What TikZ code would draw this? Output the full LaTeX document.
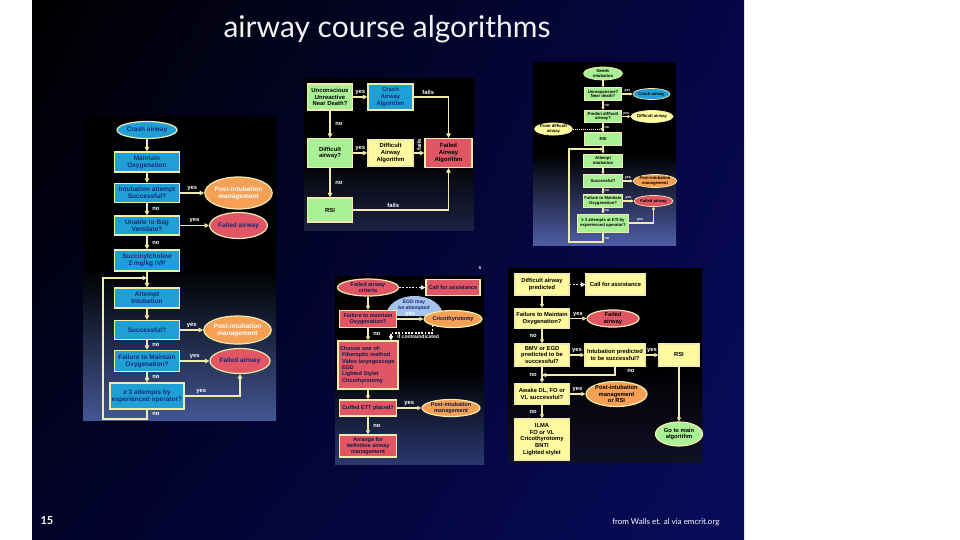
\documentclass[tikz,border=0pt]{standalone}
\usepackage{fontspec}
\usepackage{tikz}
\usetikzlibrary{arrows.meta}
\usetikzlibrary{shapes.geometric}
\usetikzlibrary{shadings}
\setsansfont{Liberation Sans}
\newfontfamily\slidefont{Lato}

\definecolor{slidetr}{RGB}{6,6,72}
\definecolor{slidebl}{RGB}{2,2,40}
\definecolor{slidebr}{RGB}{8,12,92}
\definecolor{cblue}{RGB}{30,160,215}
\definecolor{cgreen}{RGB}{170,240,150}
\definecolor{cyellow}{RGB}{255,250,160}
\definecolor{cred}{RGB}{225,85,100}
\definecolor{corange}{RGB}{245,160,85}
\definecolor{cedge}{RGB}{242,236,172}
\definecolor{cnavy}{RGB}{22,42,120}
\definecolor{cdome}{RGB}{165,195,235}
\definecolor{pnla}{RGB}{66,86,146}
\definecolor{pnlb}{RGB}{28,34,66}
\definecolor{pnlc}{RGB}{78,94,165}
\definecolor{pnld}{RGB}{42,56,112}
\definecolor{pnle}{RGB}{16,16,38}

\tikzset{
  box/.style={rectangle, draw=cedge, line width=1.2pt, inner sep=0pt, align=center, text=black},
  abox/.style={box, minimum width=65pt, minimum height=19pt, text=cnavy, font=\sffamily\bfseries\fontsize{6.5}{6.8}\selectfont},
  aoval/.style={abox, ellipse},
  bbox/.style={box, minimum width=45pt, minimum height=26pt, font=\sffamily\bfseries\fontsize{5.9}{6.8}\selectfont},
  cbox/.style={box, line width=0.7pt, minimum width=37pt, minimum height=12.5pt, font=\sffamily\bfseries\fontsize{4.2}{4.7}\selectfont},
  coval/.style={cbox, ellipse},
  dbox/.style={box, minimum width=57pt, minimum height=17pt, text=cnavy!60!black, font=\sffamily\bfseries\fontsize{5.5}{6.3}\selectfont},
  doval/.style={dbox, ellipse},
  ebox/.style={box, minimum width=54pt, minimum height=21pt, font=\sffamily\bfseries\fontsize{5.8}{6.7}\selectfont},
  eoval/.style={ebox, ellipse},
  link/.style={draw=cedge, line width=1.8pt, ->},
  slink/.style={link, line width=1.5pt, >={Triangle[length=4pt,width=4pt]}},
  clink/.style={link, line width=1.1pt, >={Triangle[length=2.8pt,width=3pt]}},
  dots/.style={draw=white!85!cedge, line width=1.5pt, dash pattern=on 1.8pt off 1.5pt, ->},
  lbl/.style={text=white, inner sep=1.5pt, font=\sffamily\bfseries\fontsize{5.8}{6}\selectfont},
  clbl/.style={lbl, inner sep=1pt, font=\sffamily\bfseries\fontsize{3.6}{4}\selectfont},
  panel/.style={top color=black, bottom color=#1, middle color=black},
  >={Triangle[length=4.5pt,width=4.5pt]}
}

\begin{document}
\begin{tikzpicture}[x=1pt, y=-1pt]
    \useasboundingbox (0,0) rectangle (960,540);
    \fill[white] (0,0) rectangle (960,540);
    \shade[upper left=black, upper right=slidetr, lower left=slidebl, lower right=slidebr] (32,0) rectangle (744,540);
    \node[text=white!90!gray, font=\slidefont\fontsize{30}{33}\selectfont] (T) at (387,29) {airway course algorithms};
    \node[text=white, anchor=west, font=\slidefont\bfseries\fontsize{11}{12}\selectfont] (P) at (37,521) {15};
    \node[text=white, anchor=east, font=\slidefont\fontsize{8}{9}\selectfont] (S) at (723,522) {from Walls et. al via emcrit.org};

    \shade[panel=pnla] (83,117) rectangle (276,420);
    \shade[panel=pnlb] (304,79) rectangle (474,230);
    \shade[panel=pnlc] (533,63) rectangle (676,245);
    \shade[panel=pnld] (335,276) rectangle (484,464);
    \shade[panel=pnle] (508,268) rectangle (702,462);
    \fill[cdome] (386,316) arc[start angle=180, end angle=0, x radius=28.5pt, y radius=20pt];

    \node[aoval, fill=cblue, minimum width=60pt, minimum height=17pt] (A1) at (147,130) {Crash airway};
    \node[abox, fill=cblue, minimum height=20pt] (A2) at (147,162) {Maintain\\Oxygenation};
    \node[abox, fill=cblue] (A3) at (147,193) {Intubation attempt\\Successful?};
    \node[aoval, fill=corange, text=white, minimum width=55pt, minimum height=32pt] (A4) at (238.5,193) {Post-intubation\\management};
    \node[abox, fill=cblue] (A5) at (147,225.5) {Unable to Bag\\Ventilate?};
    \node[aoval, fill=cred, minimum width=55pt, minimum height=26pt] (A6) at (238.5,225.5) {Failed airway};
    \node[abox, fill=cblue, minimum height=21pt] (A7) at (147,260.5) {Succinylcholine\\2 mg/kg IVP};
    \node[abox, fill=cblue, minimum height=20pt] (A8) at (147,298) {Attempt\\Intubation};
    \node[abox, fill=cblue] (A9) at (147,330) {Successful?};
    \node[aoval, fill=corange, text=white, minimum width=57pt, minimum height=28pt] (A10) at (237.5,330) {Post-intubation\\management};
    \node[abox, fill=cblue, minimum height=21pt] (A11) at (147,361) {Failure to Maintain\\Oxygenation?};
    \node[aoval, fill=cred, minimum width=60pt, minimum height=25pt] (A12) at (240,361) {Failed airway};
    \node[abox, fill=cblue, minimum width=74pt, minimum height=26pt] (A13) at (147,396) {≥ 3 attempts by\\experienced operator?};
    \coordinate (Aj) at (147,278);
    \coordinate (Ab) at (103,419);
    \path [link] (A1) edge (A2);
    \path [link] (A2) edge (A3);
    \path [link] (A3) edge node[lbl, above] {yes} (A4);
    \path [link] (A3) edge node[lbl, right=3pt] {no} (A5);
    \path [link] (A5) edge node[lbl, above] {yes} (A6);
    \path [link] (A5) edge node[lbl, right=3pt] {no} (A7);
    \path [link] (A7) edge (A8);
    \path [link] (A8) edge (A9);
    \path [link] (A9) edge node[lbl, above] {yes} (A10);
    \path [link] (A9) edge node[lbl, right=3pt] {no} (A11);
    \path [link] (A11) edge node[lbl, above] {yes} (A12);
    \path [link] (A11) edge node[lbl, right=3pt] {no} (A13);
    \draw [link] (A13) -| node[lbl, above, pos=0.15] {yes} (A12);
    \draw [link] (A13) |- node[lbl, right=3pt, pos=0.25] {no} (Ab) |- (Aj);

    \node[bbox, fill=cgreen] (B1) at (330,97) {Unconscious\\Unreactive\\Near Death?};
    \node[bbox, fill=cblue, text=cnavy] (B2) at (390.5,97) {Crash\\Airway\\Algorithm};
    \node[bbox, fill=cgreen, minimum height=29pt] (B3) at (330,153) {Difficult\\airway?};
    \node[bbox, fill=cyellow] (B4) at (390.5,153) {Difficult\\Airway\\Algorithm};
    \node[bbox, fill=cred, minimum width=47pt, minimum height=29pt] (B5) at (448.5,153) {Failed\\Airway\\Algorithm};
    \node[bbox, fill=cgreen, minimum height=24pt] (B6) at (330,210) {RSI};
    \path [link] (B1) edge node[lbl, above] {yes} (B2);
    \path [link] (B1) edge node[lbl, right=3pt] {no} (B3);
    \path [link] (B3) edge node[lbl, above] {yes} (B4);
    \path [link] (B4) edge node[lbl, rotate=90, anchor=west] {fails} (B5);
    \path [link] (B3) edge node[lbl, right=3pt] {no} (B6);
    \draw [link] (B2) -| node[lbl, above, pos=0.21] {fails} (B5);
    \draw [link] (B6) -| node[lbl, above, pos=0.21] {fails} (B5);

    \node[coval, fill=cgreen, minimum width=39pt, minimum height=13pt] (C1) at (603,73.5) {Needs\\intubation};
    \node[cbox, fill=cgreen] (C2) at (603,94) {Unresponsive?\\Near death?};
    \node[coval, fill=cblue, minimum width=37pt, minimum height=11pt] (C3) at (651.5,94) {Crash airway};
    \node[cbox, fill=cgreen] (C4) at (603,116.5) {Predict difficult\\airway?};
    \node[coval, fill=cyellow, minimum width=38pt, minimum height=12pt] (C5) at (652,116.5) {Difficult airway};
    \node[coval, fill=cyellow, minimum width=37pt, minimum height=12pt] (C6) at (553.5,129) {From difficult\\airway};
    \node[cbox, fill=cgreen] (C7) at (603,139) {RSI};
    \node[cbox, fill=cgreen, minimum width=39pt, minimum height=13pt] (C8) at (603,160.5) {Attempt\\intubation};
    \node[cbox, fill=cgreen, minimum width=39pt] (C9) at (603,181) {Successful?};
    \node[coval, fill=corange, minimum width=42pt, minimum height=13pt] (C10) at (655,181) {Post-intubation\\management};
    \node[cbox, fill=cgreen, minimum width=39pt, minimum height=13pt] (C11) at (603,201) {Failure to Maintain\\Oxygenation?};
    \node[coval, fill=cred, minimum width=39pt, minimum height=11pt] (C12) at (653.5,201) {Failed airway};
    \node[cbox, fill=cgreen, minimum width=51pt, minimum height=18pt] (C13) at (603,223) {≥ 3 attempts at ETI by\\experienced operator?};
    \coordinate (Cd) at (603,129);
    \coordinate (Cj) at (603,149);
    \coordinate (Cb) at (569,242);
    \path [clink] (C1) edge (C2);
    \path [clink] (C2) edge node[clbl, above] {yes} (C3);
    \path [clink] (C2) edge node[clbl, right] {no} (C4);
    \path [clink] (C4) edge node[clbl, above] {yes} (C5);
    \path [clink] (C4) edge node[clbl, right, pos=0.45] {no} (C7);
    \path [dots, line width=0.9pt, dash pattern=on 1pt off 1pt, >={Triangle[length=2.5pt,width=2.5pt]}] (C6) edge (Cd);
    \path [clink] (C7) edge (C8);
    \path [clink] (C8) edge (C9);
    \path [clink] (C9) edge node[clbl, above] {yes} (C10);
    \path [clink] (C9) edge node[clbl, right] {no} (C11);
    \path [clink] (C11) edge node[clbl, above] {yes} (C12);
    \path [clink] (C11) edge node[clbl, right] {no} (C13);
    \draw [clink] (C13) -| node[clbl, above, pos=0.23] {yes} (C12);
    \draw [clink] (C13) |- node[clbl, right, pos=0.3] {no} (Cb) |- (Cj);

    \node[text=white, inner sep=0pt, font=\sffamily\bfseries\fontsize{5}{5}\selectfont] (D0) at (480,268) {s};
    \node[inner sep=0pt, align=center, text=cnavy, font=\sffamily\bfseries\fontsize{5}{5.6}\selectfont] (D9) at (414,305) {EGD may\\be attempted};
    \node[doval, fill=cred, minimum width=61pt, minimum height=17pt] (D1) at (368,287.5) {Failed airway\\criteria};
    \node[dbox, fill=cred, minimum width=54pt, minimum height=16pt] (D2) at (453,287.5) {Call for assistance};
    \node[dbox, fill=cred] (D3) at (368,319) {Failure to maintain\\Oxygenation?};
    \node[doval, fill=corange, minimum width=56pt, minimum height=17pt] (D4) at (453,319) {Cricothyrotomy};
    \node[dbox, fill=cred, minimum width=60pt, minimum height=48pt, align=left, text width=56pt] (D5) at (368,365) {Choose one of:\\\hspace{2pt}Fiberoptic method\\\hspace{2pt}Video laryngoscope\\\hspace{2pt}EGD\\\hspace{2pt}Lighted Stylet\\\hspace{2pt}Cricothyrotomy};
    \node[dbox, fill=cred, minimum height=16pt] (D6) at (368,408) {Cuffed ETT placed?};
    \node[doval, fill=corange, minimum width=58pt, minimum height=17pt] (D7) at (451,408) {Post-intubation\\management};
    \node[dbox, fill=cred, minimum height=22pt] (D8) at (368,446) {Arrange for\\definitive airway\\management};
    \coordinate (Dc) at (391,333);
    \path [dots] (D1) edge (D2);
    \path [slink] (D1) edge (D3);
    \path [slink] (D3) edge node[lbl, above] {yes} (D4);
    \path [slink] (D3) edge node[lbl, right=3pt] {no} (D5);
    \draw [dots, line width=1.1pt] (D4.south west) |- node[lbl, below, pos=0.67, font=\sffamily\bfseries\fontsize{5}{5}\selectfont] {if contraindicated} (Dc) -- (Dc |- D5.north);
    \path [slink] (D5) edge (D6);
    \path [slink] (D6) edge node[lbl, above] {yes} (D7);
    \path [slink] (D6) edge node[lbl, right=3pt] {no} (D8);

    \node[ebox, fill=cyellow] (E1) at (542,284.5) {Difficult airway\\predicted};
    \node[ebox, fill=cyellow, minimum width=59pt] (E2) at (615.5,284.5) {Call for assistance};
    \node[ebox, fill=cyellow, minimum height=20pt] (E3) at (542,318.5) {Failure to Maintain\\Oxygenation?};
    \node[eoval, fill=cred, minimum width=52pt, minimum height=17pt] (E4) at (613,318.5) {Failed\\airway};
    \node[ebox, fill=cyellow, minimum height=22pt] (E5) at (542,355) {BMV or EGD\\predicted to be\\successful?};
    \node[ebox, fill=cyellow, minimum width=60pt, minimum height=23pt] (E6) at (615,355) {Intubation predicted\\to be successful?};
    \node[ebox, fill=cyellow, minimum width=40pt, minimum height=22pt] (E7) at (679,355) {RSI};
    \node[ebox, fill=cyellow] (E8) at (542,394) {Awake DL, FO or\\VL successful?};
    \node[eoval, fill=corange, minimum width=61pt, minimum height=24pt] (E9) at (616.5,394) {Post-intubation\\management\\or RSI};
    \node[ebox, fill=cyellow, minimum width=55pt, minimum height=41pt] (E10) at (542,439.5) {ILMA\\FO or VL\\Cricothyrotomy\\BNTI\\Lighted stylet};
    \node[eoval, fill=cgreen, minimum width=47pt, minimum height=24pt] (E11) at (679,434) {Go to main\\algorithm};
    \coordinate (Ej) at (542,375);
    \path [dots] (E1) edge (E2);
    \path [slink] (E1) edge (E3);
    \path [slink] (E3) edge node[lbl, above] {yes} (E4);
    \path [slink] (E3) edge node[lbl, left=3pt] {no} (E5);
    \path [slink] (E5) edge node[lbl, above] {yes} (E6);
    \path [slink] (E6) edge node[lbl, above] {yes} (E7);
    \draw [slink] (E6) |- node[lbl, right=10pt, pos=0.25] {no} (Ej);
    \path [slink] (E5) edge node[lbl, left=3pt] {no} (E8);
    \path [slink] (E8) edge node[lbl, above] {yes} (E9);
    \path [slink] (E8) edge node[lbl, left=3pt] {no} (E10);
    \path [slink] (E7) edge (E11);
\end{tikzpicture}
\end{document}
